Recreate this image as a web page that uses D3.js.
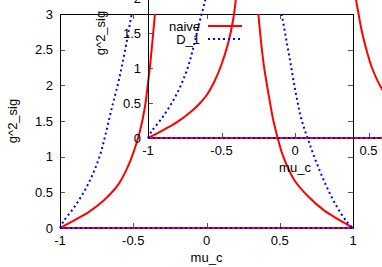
<!DOCTYPE html>
<html>
<head>
<meta charset="utf-8">
<script src="https://cdn.jsdelivr.net/npm/d3@7"></script>
<style>
  body { margin: 0; background: #fff; }
  svg { display: block; font-family: "Liberation Sans", Arial, sans-serif; font-size: 13px; }
</style>
</head>
<body>
<svg id="chart" width="382" height="267"></svg>
<script>
// tick values shared by both panels
const xTicks = [-1, -0.5, 0, 0.5, 1];
const yTicks = [0, 0.5, 1, 1.5, 2, 2.5, 3];

// series: [mu_c, g^2_sig]
const naiveLeft = [[-1, 0], [-0.9, 0.11], [-0.8, 0.23], [-0.7, 0.39], [-0.65, 0.49], [-0.6, 0.615],
  [-0.55, 0.8], [-0.5, 1.05], [-0.454, 1.36], [-0.42, 1.7], [-0.4, 2.02], [-0.386, 2.26], [-0.352, 3.0]];
const naiveRight = [[0.354, 3.0], [0.39, 2.3], [0.43, 1.8], [0.456, 1.51], [0.49, 1.23], [0.524, 1.0],
  [0.6, 0.67], [0.7, 0.43], [0.8, 0.25], [0.9, 0.12], [1, 0]];
const d1Left = [[-1, 0], [-0.977, 0.09], [-0.9, 0.3], [-0.83, 0.53], [-0.773, 0.77], [-0.727, 1.02],
  [-0.693, 1.28], [-0.65, 1.65], [-0.6, 2.06], [-0.555, 2.5], [-0.511, 3.0]];
const d1Right = [[0.513, 3.0], [0.57, 2.35], [0.616, 1.82], [0.65, 1.51], [0.695, 1.23], [0.752, 0.91],
  [0.82, 0.58], [0.889, 0.3], [0.957, 0.09], [1, 0]];
const zeroLine = [[-1, 0], [1, 0]];

const series = [
  { name: 'naive', color: '#ff0000', dash: null, parts: [naiveLeft, naiveRight, zeroLine] },
  { name: 'D_1', color: '#0000ff', dash: '2,3', parts: [d1Left, d1Right, zeroLine] }
];

const svg = d3.select('#chart');
let clipId = 0;

function panel (x0, x1, y0, y1) {
  const x = d3.scaleLinear().domain([-1, 1]).range([x0, x1]);
  const y = d3.scaleLinear().domain([0, 3]).range([y0, y1]);
  const g = svg.append('g');
  const id = 'clip' + (clipId++);

  g.append('clipPath').attr('id', id)
    .append('rect')
    .attr('x', x0 - 1).attr('y', y1 - 1)
    .attr('width', x1 - x0 + 2).attr('height', y0 - y1 + 2);

  // ticks, mirrored on all four sides
  const tk = g.append('g').attr('stroke', '#555').attr('stroke-width', 1);
  xTicks.forEach(v => {
    const px = Math.round(x(v)) + 0.5;
    tk.append('line').attr('x1', px).attr('x2', px).attr('y1', y0).attr('y2', y0 - 5);
    tk.append('line').attr('x1', px).attr('x2', px).attr('y1', y1).attr('y2', y1 + 5);
  });
  yTicks.forEach(v => {
    const py = Math.round(y(v)) + 0.5;
    tk.append('line').attr('x1', x0).attr('x2', x0 + 5).attr('y1', py).attr('y2', py);
    tk.append('line').attr('x1', x1).attr('x2', x1 - 5).attr('y1', py).attr('y2', py);
  });

  g.append('rect')
    .attr('x', Math.round(x0) + 0.5).attr('y', Math.round(y1) + 0.5)
    .attr('width', Math.round(x1 - x0)).attr('height', Math.round(y0 - y1))
    .attr('fill', 'none').attr('stroke', '#000').attr('stroke-width', 1);

  g.selectAll('.xl').data(xTicks).enter().append('text')
    .attr('x', d => x(d)).attr('y', y0 + 17)
    .attr('text-anchor', 'middle')
    .text(d => d);
  g.selectAll('.yl').data(yTicks).enter().append('text')
    .attr('x', x0 - 7).attr('y', d => y(d) + 4.5)
    .attr('text-anchor', 'end')
    .text(d => d);

  g.append('text')
    .attr('x', (x0 + x1) / 2).attr('y', y0 + 34)
    .attr('text-anchor', 'middle')
    .text('mu_c');
  g.append('text')
    .attr('transform', `translate(${x0 - 43},${(y0 + y1) / 2}) rotate(-90)`)
    .attr('text-anchor', 'middle')
    .text('g^2_sig');

  const line = d3.line()
    .x(d => x(d[0]))
    .y(d => y(d[1]))
    .curve(d3.curveCatmullRom.alpha(0.5));

  const plot = g.append('g').attr('clip-path', `url(#${id})`);
  series.forEach(s => {
    plot.selectAll(null).data(s.parts).enter().append('path')
      .attr('d', line)
      .attr('fill', 'none')
      .attr('stroke', s.color)
      .attr('stroke-width', 2)
      .attr('stroke-dasharray', s.dash);
  });
}

panel(60, 353, 228, 14);
panel(148, 442, 138, -72);

// key
const key = svg.append('g');
series.forEach((s, i) => {
  const ky = 26 + i * 13;
  key.append('text')
    .attr('x', 200).attr('y', ky + 4.5)
    .attr('text-anchor', 'end')
    .text(s.name);
  key.append('line')
    .attr('x1', 208).attr('x2', 242)
    .attr('y1', ky).attr('y2', ky)
    .attr('stroke', s.color)
    .attr('stroke-width', 2)
    .attr('stroke-dasharray', s.dash);
});
</script>
</body>
</html>
